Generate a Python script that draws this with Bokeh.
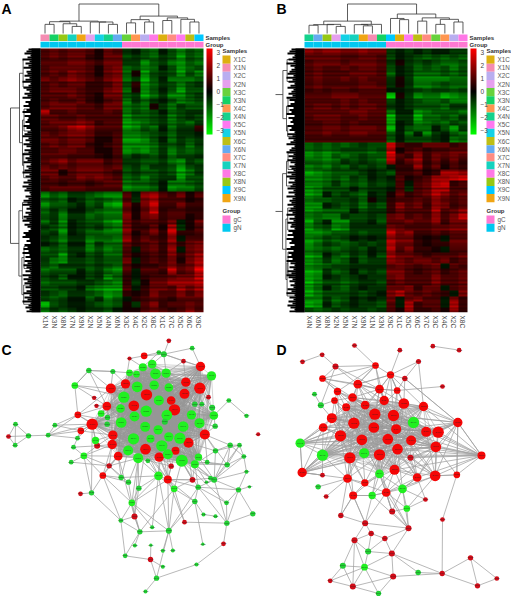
import numpy as np
from bokeh.plotting import figure
from bokeh.layouts import column, row
from bokeh.embed import file_html
from bokeh.resources import INLINE
from bokeh.core.properties import value
from bokeh.models import (LinearAxis, FixedTicker, LinearColorMapper, ColorBar, Range1d)

# ---------- labels ----------
samples = ["X1C","X1N","X2C","X2N","X3C","X3N","X4C","X4N","X5C","X5N","X6C","X6N","X7C","X7N","X8C","X8N","X9C","X9N"]
sample_colors = ["#DDB00F","#F58CB2","#B9AEF0","#E6A0EE","#66D23C","#14D264","#FF9650","#14D28C","#FF78F0","#14D2E6",
                 "#BEBE14","#64AAF0","#FF8C82","#14D2BE","#FF78E6","#96C814","#00C8FF","#F0A514"]
groups = ["gC","gN"]
group_colors = ["#FF78D2","#00C8F0"]
cols_A = ["X1N","X3N","X8N","X7N","X9N","X2N","X5N","X4N","X6N","X3C","X4C","X2C","X8C","X1C","X7C","X5C","X6C","X9C"]
cols_B = ["X4N","X6N","X8N","X2N","X5N","X7N","X9N","X1N","X3N","X9C","X1C","X5C","X6C","X7C","X3C","X4C","X2C","X8C"]
colorbar_ticks = [-3,-2,-1,0,1,2,3]

# ---------- heatmaps: one string per row; digit d = +0.3d, letter a.. = -0.3, -0.6 ... ----------
heat_A = [
"343443143 bacdacecd","343442144 cbcdbcfcd","333443244 bbecbdecd","344443145 dcedacfdc","343543145 d1fcbcfce",
"434543245 dbfcadddc","343442235 c2fdbcecb","344432245 d1ecacfcc","333432144 cbfdbeecb","343342134 ebdbacedc",
"344433244 dcd1bdbcc","833433343 ecdcadcbb","443343333 fddcbecbc","344454233 fedcbdcdb","334675333 fecdadbb2",
"434554223 eedcbdbba","443443113 ffecadbcb","343442123 eeedbcbdb","334433113 fefdbecdc","444333213 dbcdbeccb",
"345344423 bbccbdebc","434344434 cbdbbcfcb","441344432 cbccbcfdb","343354543 dcecbbfcc","332332344 eddcaeedc",
"344443333 feedafeec",
"ecdbbcdee 3a5632413","dcdabdcde 3b5733312","eccbacbef 414722422","dbdaacdee 414823322","cbebbdcdd 514523312",
"dbeabccef 423324a14","bceabcbde 522417b13","cbfabddee 513528223","bcebbedde 624326a33","abdaaebdd 423425245",
"dcdbbeced 3a3426a45","ccfbacbdd 312325246","bdebbcbcc 4a2324146","cdbbbcbcd 312235347","dcccacbde 3a3327348",
"cbdaacbfd 2a2334558","dcccbbcde 2b1446667","ccbbadeff 3a2443646","bcdbbcdfe 212533535","cdcaadbfd a23432444",
"gcbaabcdc 1b3523343","dbcbabbca 113432353",
]
heat_B = [
"545544544 bababaabb","444433443 cabcdcdcd","344434443 b1bcbcddc","343343443 cabdcdcec","343334443 dabdddcdc",
"343343433 b1beeeedd","343333443 b1beedcdd","343443444 aabcdccdc","333444333 g1beddfed","333343433 cabcddcee",
"344343443 babcccdbb","333334433 daaedcccd","344433433 gbbgddcdb","334434333 gabfedecd","334434443 gacddacfb",
"334334433 cadaebacd","333333333 dacccbaed",
"dcdcdcbcc 832244423","ededcccdc 813423344","edecdcbcc 732524343","ddedbcbcd 724624242","edecdbcbc a22624132",
"fedcccbab c22312665","eedcdbcab a31236678","eedbdcdbc b3a347823","fecccacbb a3b347733","feacbcdab 142347534",
"eddccbd1b 233436434","eeabcbdbc 253425423","fedddacbb 243337346","edeebccbc 453436358","fcaeebbac 334335244",
"fdcfebbbb 543334455","eedccbcbb 745223233","fecdcabab 755212a44","fdbcdcbcb 744212244","edcdcbcab 735221a33",
"feacdbcac 644323334","edbdcacbb 543443423","fedccbbbb 454345a43","gfbdcacbc 553234234","feabcbabb 453335334",
"geccdcbbc 343335334","fdacdbabb 445244a34","gecccbcba 5743432a5","eebdcabab 4a4533a52","feacbabbc 3a6233a62",
"cdcbcbbcb 316223162",
]
# fine horizontal striping inside each heat row, three digits per row (4 = no change)
stripes_A = ("625" "371" "486" "253" "714" "368" "152" "647" "283" "516" "738" "241" "605" "372" "841" "436"
             "175" "628" "354" "710" "583" "246" "817" "362" "504" "731" "268" "415" "873" "126" "654" "382"
             "507" "741" "236" "815" "463" "172" "658" "327" "841" "506" "273" "618" "345" "720" "564" "138")
stripes_B = ("483" "516" "247" "635" "172" "854" "326" "701" "468" "253" "617" "384" "725" "140" "563" "872"
             "316" "645" "208" "574" "731" "462" "185" "637" "254" "806" "371" "523" "748" "160" "435" "682"
             "317" "584" "206" "743" "651" "328" "475" "812" "163" "546" "270" "834" "615" "327" "748" "251")

# ---------- dendrograms: (height, left, right); leaves are column / row positions ----------
tree_top_A = (1.0,
  (0.42, (0.40, (0.31,0,1), (0.33,2,(0.24,3,4))),
         (0.39, 5, (0.39,6,(0.31,7,8)))),
  (0.59, (0.47,(0.36,9,10),(0.39,11,12)),
         (0.53,(0.44,13,14),(0.48,15,(0.39,16,17)))))
tree_top_B = (1.0,
  (0.42, (0.30,(0.28,0,1),(0.31,2,(0.24,3,4))),
         (0.31,(0.30,5,(0.26,6,7)),8)),
  (0.66, (0.51,9,(0.47,10,11)),
         (0.53,(0.42,12,13),(0.48,(0.31,14,15),(0.39,16,17)))))
tree_row_A = (1.0, (0.70,(0.58,2,7),(0.60,(0.55,11,15),(0.56,19,23.5))),
                   (0.72,(0.60,28,31),(0.62,(0.55,36,40),(0.56,43,46.5))))
tree_row_B = (1.0, (0.72,(0.58,2,6),(0.60,(0.55,9,12),(0.56,14,16))),
                   (0.73,(0.60,(0.55,19,22),25),(0.62,(0.56,29,33),(0.58,(0.55,37,41),45))))
# fringe of the row dendrograms, one digit per leaf (0 short ... 9 long)
leaves_A = ("35714926381547269138" "52749163825917346285" "14793628517392648153" "79261483957216384925"
            "16385927413869251748" "39261748526193847261" "58274913625")
leaves_B = ("46813729514682937158" "24739615826491735284" "61837259146927385164" "28496173582719364825"
            "73916284517382946159" "27483951628497361528" "49162738516")

# ---------- network C: page-scale layout positions, node diameter, colour ----------
C_x = [438,275,400,600,598,552,522,512,556,375,331,319,337,335,435,564,613,353,476,525,431,241,232,502,290,326,512,576,
       410,370,461,505,475,360,402,437,499,362,434,493,473,548,573,597,399,450,505,538,484,383,502,413,544,583,594,427,455,465,497,387,408,633,640,
       265,337,223,490,475,575,505,387,549,281,288,624,583,604,635,644,302,321,320,231,285,219,250,212,307,362,384,474,415,521,593,645,442,620,680,630,641,618,685,
       45,84,44,24,143,163,738,773,689,717,730,738,714,747,757,678,679,583,609,645,607,669,552,402,361,273,240,394,418,455,505,403,451,487,517,450,374,487,588,468,435]
C_y = [280,368,313,195,260,277,325,297,242,247,261,314,401,429,443,424,399,464,467,448,163,388,340,534,433,493,494,535,
       256,287,251,258,297,321,345,329,341,363,376,361,385,375,340,365,412,412,406,410,433,447,458,470,478,488,467,197,188,217,215,214,218,223,342,
       207,210,252,158,153,140,118,171,179,289,313,287,308,308,319,374,336,348,368,410,417,437,463,482,522,528,542,523,560,562,557,448,478,482,490,530,535,542,297,
       368,403,431,405,401,371,343,398,431,431,465,511,565,556,637,604,665,600,639,644,728,727,662,645,657,574,577,604,691,677,688,732,731,748,747,774,763,796,789,830,870]
C_d = [32,32,30,26,32,28,32,24,26,26,28,24,26,26,30,28,28,24,26,22,18,18,18,22,16,14,14,15,
       30,32,26,24,28,24,28,32,30,30,28,16,26,30,26,28,32,22,26,32,32,28,28,28,34,22,20,22,24,30,26,18,18,26,24,
       14,13,18,16,12,12,12,10,12,11,11,12,14,12,16,14,18,14,14,12,20,12,18,12,18,14,14,24,14,18,14,14,12,12,14,12,16,8,12,
       12,14,12,12,12,12,11,10,14,12,12,10,14,8,14,12,14,14,10,10,8,12,12,16,12,14,12,18,14,10,16,10,8,10,10,14,12,10,10,14,10]
C_red = [1]*28 + [0]*35 + [0,0,0,0,0,0,1,1,1,1,1,1,0,0,0,0,0,0,0,0,0,0,0,0,1,0,0,0,0,0,0,0,0,0,0,0,0,0,0] + \
        [0,0,0,1,0,0,0,1,0,0,0,0,0,0,0,0,0,0,0,0,0,1,1,1,0,0,1,0,0,0,0,0,0,0,0,1,0,0,0,0,0]
C_core = list(range(0,20)) + list(range(28,63))
C_links = [(21,[1,12,33]),(22,[1,10,11,12,37]),(23,[14,18,26,44,48,50,90,27,19]),(24,[1,12,13,49]),(25,[13,17,51,44]),
 (26,[18,50,51]),(27,[19,52,53,23,41]),(63,[10,65,64,11]),(64,[9,10,59,63]),(65,[63,72,10,22,29]),(66,[20,56,58,3,67,68,69]),
 (67,[20,55]),(68,[3]),(70,[20,55,9]),(71,[3,58,8,66]),(72,[11]),(73,[11]),(74,[4,61,16]),(75,[4,42,6]),(76,[4,62]),(77,[4,62,16]),
 (78,[62,16,43]),(79,[1,11,29]),(80,[1,11,33]),(81,[1,37]),(82,[1,21,106]),(83,[1,12,24]),(84,[21,24]),(85,[13,24,17,84,87,25]),
 (86,[85,25]),(87,[13,17,25,88,89,127,129]),(88,[17,25,49,90]),(89,[25,51,129]),(90,[14,18,44,48,51,92]),(91,[51,90,129,125,14]),
 (92,[23,18,52,27,119]),(93,[52,53,23,99,119,117]),(94,[16,15,53,99,110]),(95,[14,51]),(96,[16,53,54]),(97,[52,16,53,96,110,99]),
 (98,[53,27]),(99,[52,53,15,110,111,113,114]),(100,[99,53]),(101,[62,108]),(102,[103,104,105]),(103,[105,104,106]),(104,[105]),
 (106,[107,21,1,22]),(107,[22,1,21]),(110,[16,111,112]),(111,[94,112,97]),(112,[97,99,113]),(113,[114]),(114,[93,116,117,118,115]),
 (116,[118]),(117,[52]),(118,[99,93,124,117]),(119,[23,120]),(120,[121]),(122,[119]),(123,[118,140]),(124,[23,92]),
 (125,[129,126,130,17,51]),(126,[127,129,130,87]),(128,[127]),(129,[23,90,51,130,131,132]),(130,[132,125,92]),(131,[90]),
 (132,[23,90,92,141,135,93,119]),(133,[130]),(134,[137]),(136,[132]),(137,[138,139,141]),(138,[126,130]),(140,[141]),(141,[142]),
 (127,[1,85])]

# ---------- network D ----------
D_x = [343,399,280,340,407,240,304,382,452,497,533,526,411,357,268,402,450,524,470,261,313,377,278,314,371,430,489,276,257,214,188,357,292,231,222,410,592,663,125,589,
       459,311,186,119,357,426,335,
       186,197,173,181,162,186,225,185,126,282,345,390,418,474,433,517,596,546,439,395,495,241,314,444,546,332,373,282,323,394,247,312,398,473,545,630,709,651,209,277,354]
D_y = [338,342,365,378,383,403,415,413,417,391,392,436,443,460,469,505,469,523,528,531,544,573,582,311,297,306,315,288,317,350,378,263,248,270,297,267,363,462,513,520,
       363,455,461,425,517,562,582,
       521,585,556,311,278,231,195,160,181,132,192,220,146,180,231,134,146,255,621,630,594,642,665,680,654,696,711,716,750,756,793,797,825,813,816,769,831,853,838,855,876]
D_d = [32,32,32,30,28,32,30,30,28,28,32,30,30,32,32,28,16,30,24,24,20,24,22,24,26,30,26,24,22,28,24,24,24,20,18,18,26,22,26,18,
       32,28,32,26,24,24,20,
       12,12,14,16,12,18,16,12,12,12,18,20,12,13,14,12,12,12,18,16,12,14,16,16,12,14,14,16,16,16,16,18,16,14,14,14,12,14,12,16,14]
D_red = [1]*40 + [0]*7 + [1,1,0,0,0,1,1,1,1,1,1,1,1,1,1,1,1,1,0,1,1,1,1,1,1,1,1,1,0,1,0,0,1,0,1,1,1,1,1,1,0]
D_core = list(range(0,16)) + list(range(23,30)) + [40,41,42,44]
D_links = [(16,[8,11,13,12,18,37,0,1,3]),(17,[36,37,9,10,11,7,8,12,4,39,15,6]),(18,[36,37,8,11,15,12,13,45,4,7]),(19,[2,5,14,13,42,38,20,21,6,3]),
 (20,[13,14,6,15,22,44,5]),(21,[15,13,17,18,44,46,66,11]),(22,[14,19,44,46,68,69]),(30,[2,5,29,42,43,6,3,0,13]),
 (31,[0,1,3,24,23,25,27,32,53,58,35,4,2]),(32,[0,2,3,27,24,31,53,57,58,1,5]),(33,[0,2,23,27,52,34,3,5]),(34,[2,3,5,27,29,6]),(35,[1,4,25,31,58,0]),
 (36,[0,1,4,7,8,9,10,11,26,25,37,61,39,12,13]),(37,[7,8,10,11,12,9,36,39,26,40,14,13,4,6,15]),(38,[2,5,6,14,13,42,43,30,3,47,0,7,12]),(39,[36,71,17,11]),
 (43,[2,3,5,6,29,30,38,0,7,42,4,12,14]),(42,[0,2,3,6,7,13,38]),(45,[15,12,17,18,21,44,65,70]),(46,[21,22,15,13,44]),(47,[38,42]),(48,[19]),(49,[19]),
 (50,[51,34,29,53]),(52,[53,27,33,32,31,57]),(53,[54,57]),(54,[55]),(56,[57]),(57,[32,31,24,58,33]),(58,[1,24,31,32,59,60,35,61,25,26]),
 (60,[26,61]),(61,[36,25,35]),(63,[62]),(64,[35]),(65,[21,70,17]),(66,[21,44,45,65]),(67,[18,65,45]),(68,[22,69,19]),(69,[22,21,46,70,72,74]),
 (70,[44,46,21,66,73,76]),(71,[81]),(72,[73,74,75]),(73,[75,76]),(74,[75,77,78,86]),(75,[76,78]),(76,[78,79,80,81]),(77,[78,85,86]),(78,[79,85,86]),
 (79,[86,87,81]),(80,[81]),(81,[82,84]),(82,[83,84]),(83,[84]),(85,[86]),(86,[87]),(87,[78])]

# ---------- styling helpers ----------
FONT = value("Liberation Sans")
GREY = "#555555"
palette = ["#%02x%02x%02x" % (0, int(255*(127-i)/127), 0) for i in range(128)] + \
          ["#%02x%02x%02x" % (int(255*i/127), 0, 0) for i in range(128)]

def decode(rows, stripes):
    out = []
    for k, r in enumerate(rows):
        vals = []
        for ch in r.replace(" ", ""):
            vals.append(int(ch)*0.3 if ch.isdigit() else -0.3*(ord(ch)-96))
        for s in stripes[3*k:3*k+3]:
            f = 0.7 + 0.075*int(s)
            out.append([v*f for v in vals])
    return np.array(out, dtype=float)

def tree_segments(node, xs, ys):
    if not isinstance(node, tuple):
        return float(node), 0.0
    h, l, r = node
    pl, hl = tree_segments(l, xs, ys)
    pr, hr = tree_segments(r, xs, ys)
    xs.append([pl, pl, pr, pr]); ys.append([hl, h, h, hr])
    return (pl+pr)/2, h

def heat_panel(letter, letter_x, frame_x0, frame_w, hx0, heat_rows, stripes, cols, tree_top, tree_row, leaves):
    HY0, HY1, HX_W = 48.0, 312.0, 163.0
    n_r, n_c = len(heat_rows), len(cols)
    cw, rh = HX_W/n_c, (HY1-HY0)/n_r
    xd = lambda px: (px-hx0)/cw
    yd = lambda py: (py-HY0)/rh
    p = figure(width=frame_w, height=330, frame_width=frame_w, frame_height=312,
               x_range=Range1d(xd(frame_x0), xd(frame_x0+frame_w)), y_range=Range1d(yd(312), yd(0)),
               x_axis_location=None, y_axis_location=None, toolbar_location=None, output_backend="svg",
               min_border=0, min_border_bottom=18, outline_line_color=None)
    p.grid.visible = False
    ax = LinearAxis(ticker=FixedTicker(ticks=[i+0.5 for i in range(n_c)]),
                    major_label_overrides={i+0.5: c for i, c in enumerate(cols)},
                    major_label_orientation=-1.5708, major_label_text_font="Liberation Sans",
                    major_label_text_font_size="6.5px", major_label_text_color="#444444",
                    axis_line_color=None, major_tick_line_color=None, minor_tick_line_color=None,
                    major_tick_out=0, major_tick_in=0, minor_tick_out=0, minor_tick_in=0,
                    major_label_standoff=3)
    p.add_layout(ax, "below")
    # heat cells
    mapper = LinearColorMapper(palette=palette, low=-3.3, high=3.3)
    p.image(image=[decode(heat_rows, stripes)], x=0, y=0, dw=n_c, dh=n_r, color_mapper=mapper)
    # column annotation bars
    color_of = dict(zip(samples, sample_colors))
    ymid, hgt = yd(37.2), 6.6/rh
    p.rect([j+0.5 for j in range(n_c)], [ymid]*n_c, width=1.0, height=hgt, line_color=None,
           fill_color=[color_of[c] for c in cols])
    gcol = dict(zip("CN", group_colors))
    ymid2, hgt2 = yd(44.2), 5.8/rh
    p.rect([j+0.5 for j in range(n_c)], [ymid2]*n_c, width=1.0, height=hgt2, line_color=None,
           fill_color=[gcol[c[-1]] for c in cols])
    # top dendrogram
    xs, ys = [], []
    tree_segments(tree_top, xs, ys)
    p.multi_line([[v+0.5 for v in a] for a in xs], [[yd(33-29.5*v) for v in b] for b in ys],
                 line_color="#333333", line_width=0.8)
    # row dendrogram
    xs, ys = [], []
    tree_segments(tree_row, xs, ys)
    p.multi_line([[xd(hx0-30*max(v,0.32)) for v in b] for b in ys], [a for a in xs],
                 line_color="#333333", line_width=0.8)
    # leaf fringe
    lf = len(leaves)
    yy = [(i+0.5)*n_r/lf for i in range(lf)]
    x0 = [xd(hx0)]*lf
    x1 = [xd(hx0-9-int(ch)*1.0) for ch in leaves]
    p.segment(x0, yy, x1, yy, line_color="#000000", line_width=2.0)
    p.rect([xd(hx0-4.5)], [n_r/2], width=9/cw, height=n_r, fill_color="#000000", line_color=None)
    # annotation names
    rx = hx0+HX_W+2
    p.text([xd(rx)]*2, [yd(37.2), yd(44.2)], text=["Samples","Group"], text_font=FONT, text_font_style="bold",
           text_font_size="6px", text_color="#333333", text_baseline="middle")
    # colour bar
    cb = ColorBar(color_mapper=mapper, ticker=FixedTicker(ticks=colorbar_ticks), width=6, height=86,
                  location=(hx0+HX_W+3-frame_x0, 312-134), padding=0, margin=0, label_standoff=4,
                  major_label_text_font="Liberation Sans", major_label_text_font_size="6.5px",
                  major_label_text_color="#444444", major_tick_line_color=None, minor_tick_line_color=None,
                  bar_line_color=None, border_line_color=None, background_fill_alpha=0)
    p.add_layout(cb, "center")
    # legends
    lx = hx0+HX_W+19
    sw = 8.15
    top = 55.0
    sy = [top+sw*(i+0.5) for i in range(len(samples))]
    p.rect([xd(lx+4)]*len(samples), [yd(v) for v in sy], width=8/cw, height=sw/rh, fill_color=sample_colors, line_color=None)
    p.text([xd(lx+11)]*len(samples), [yd(v) for v in sy], text=samples, text_font=FONT, text_font_size="6.3px",
           text_color=GREY, text_baseline="middle")
    p.text([xd(lx)]*2, [yd(50.7), yd(210.7)], text=["Samples","Group"], text_font=FONT, text_font_style="bold",
           text_font_size="6px", text_color="#333333", text_baseline="middle")
    gy = [215+sw*(i+0.5) for i in range(2)]
    p.rect([xd(lx+4)]*2, [yd(v) for v in gy], width=8/cw, height=sw/rh, fill_color=group_colors, line_color=None)
    p.text([xd(lx+11)]*2, [yd(v) for v in gy], text=groups, text_font=FONT, text_font_size="6.3px",
           text_color=GREY, text_baseline="middle")
    # panel letter
    p.text([xd(letter_x)], [yd(8)], text=[letter], text_font=FONT, text_font_style="bold",
           text_font_size="14px", text_color="#000000", text_baseline="middle")
    return p

def net_panel(letter, letter_pos, zx0, zw, frame_w, prefix, nx, ny, nd, nred, core, links, core_alpha):
    p = figure(width=frame_w, height=266, x_range=Range1d(zx0, zx0+zw), y_range=Range1d(888, 90),
               x_axis_location=None, y_axis_location=None, toolbar_location=None, output_backend="svg",
               min_border=0, outline_line_color=None)
    p.grid.visible = False
    ex, ey = [], []
    for a in range(len(core)):
        for b in range(a+1, len(core)):
            i, j = core[a], core[b]
            ex.append([nx[i], nx[j]]); ey.append([ny[i], ny[j]])
    p.multi_line(ex, ey, line_color="#969696", line_width=0.5, line_alpha=core_alpha)
    ex, ey = [], []
    for i, targets in links:
        for j in targets:
            ex.append([nx[i], nx[j]]); ey.append([ny[i], ny[j]])
    p.multi_line(ex, ey, line_color="#a0a0a0", line_width=0.75)
    fills = []
    for d, r in zip(nd, nred):
        if r:
            fills.append("#f40606" if d >= 18 else "#d00c18")
        else:
            fills.append("#20f020" if d >= 18 else "#22d034")
    p.scatter(nx, ny, size=[d/3+0.7 for d in nd], fill_color=fills, line_color=None)
    p.text(nx, ny, text=["%s%03d" % (prefix, i) for i in range(len(nx))], text_font=FONT, text_font_size="2.4px",
           text_color="#222222", text_alpha=0.8, text_align="center", text_baseline="middle")
    p.text([letter_pos[0]], [letter_pos[1]], text=[letter], text_font=FONT, text_font_style="bold",
           text_font_size="14px", text_color="#000000", text_baseline="middle")
    return p

A = heat_panel("A", 1, 0, 275, 40.0, heat_A, stripes_A, cols_A, tree_top_A, tree_row_A, leaves_A)
B = heat_panel("B", 276, 275, 236, 304.0, heat_B, stripes_B, cols_B, tree_top_B, tree_row_B, leaves_B)
C = net_panel("C", (3, 144), 0, 825, 275, "C", C_x, C_y, C_d, C_red, C_core, C_links, 0.8)
D = net_panel("D", (48, 144), 45, 708, 236, "D", D_x, D_y, D_d, D_red, D_core, D_links, 0.95)

page = column(row(A, B, spacing=0), row(C, D, spacing=0), spacing=0)
open("out.html", "w").write(file_html(page, INLINE))
